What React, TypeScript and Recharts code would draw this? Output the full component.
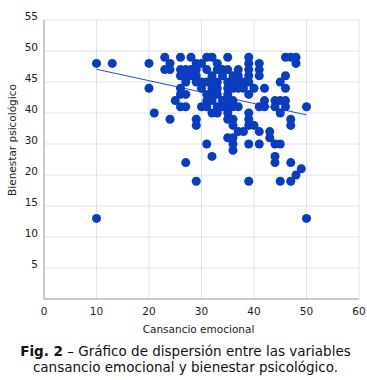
import { ScatterChart, Scatter, XAxis, YAxis, ZAxis, CartesianGrid, ReferenceLine } from 'recharts'

// Cansancio emocional (x) / Bienestar psicológico (y)
const cansancio = [
  23, 26, 28, 31, 32, 35, 39, 46, 47, 48,
  10, 13, 20, 24, 29, 30, 33, 39, 41, 48,
  23, 24, 26, 27, 28, 29, 31, 33, 34, 35, 37, 39, 41,
  26, 27, 28, 29, 32, 34, 36, 37, 39, 41, 46,
  27, 29, 30, 31, 32, 33, 35, 36, 37, 38, 39, 45,
  20, 26, 30, 32, 33, 35, 36, 37, 38, 40, 42, 46,
  26, 27, 31, 32, 33, 35, 39,
  25, 31, 32, 34, 35, 36, 42, 44, 45, 46,
  26, 27, 30, 31, 33, 34, 35, 36, 37, 41, 42, 44, 46, 50,
  21, 32, 33, 35, 39, 45,
  24, 29, 35, 36, 39, 47,
  29, 36, 39, 40, 47,
  37, 38, 41, 43,
  35, 36, 43,
  31, 36, 39, 41, 44, 45,
  36,
  32, 44,
  27, 44, 47,
  49,
  48,
  29, 39, 45, 47,
  10, 50,
]
const bienestar = [
  49, 49, 49, 49, 49, 49, 49, 49, 49, 49,
  48, 48, 48, 48, 48, 48, 48, 48, 48, 48,
  47, 47, 47, 47, 47, 47, 47, 47, 47, 47, 47, 47, 47,
  46, 46, 46, 46, 46, 46, 46, 46, 46, 46, 46,
  45, 45, 45, 45, 45, 45, 45, 45, 45, 45, 45, 45,
  44, 44, 44, 44, 44, 44, 44, 44, 44, 44, 44, 44,
  43, 43, 43, 43, 43, 43, 43,
  42, 42, 42, 42, 42, 42, 42, 42, 42, 42,
  41, 41, 41, 41, 41, 41, 41, 41, 41, 41, 41, 41, 41, 41,
  40, 40, 40, 40, 40, 40,
  38, 38, 38, 38, 38, 38,
  36, 36, 36, 36, 36,
  34, 34, 34, 34,
  32, 32, 32,
  30, 30, 30, 30, 30, 30,
  28,
  26, 26,
  24, 24, 24,
  22,
  20,
  19, 19, 19, 19,
  13, 13,
]

const xTicks = [0, 10, 20, 30, 40, 50, 60]
// the y axis of the original is not evenly spaced: 20-40 are squeezed
const yTicks = [5, 10, 15, 20, 30, 40, 45, 50, 55]
const yBreaks = [0, 5, 10, 15, 20, 30, 40, 45, 50, 55]

// linear trend as drawn in the figure
const trendX = [10, 50]
const trendY = [47.05, 39.4]

const data = cansancio.map((x, i) => ({ x, y: bienestar[i] }))

// piecewise linear scale, each break gets the same room on screen
function piecewiseScale(breaks: number[], range: number[] = [0, 1]): any {
  let r = range
  const scale: any = (v: number) => {
    const n = breaks.length - 1
    let i = 0
    while (i < n - 1 && v > breaks[i + 1]) i++
    const t = (i + (v - breaks[i]) / (breaks[i + 1] - breaks[i])) / n
    return r[0] + (r[1] - r[0]) * t
  }
  scale.domain = (d?: any) => (d === undefined ? [breaks[0], breaks[breaks.length - 1]] : scale)
  scale.range = (nr?: any) => {
    if (nr === undefined) return r
    r = nr
    return scale
  }
  scale.copy = () => piecewiseScale(breaks, r)
  scale.ticks = () => breaks
  return scale
}

const font = '"DejaVu Sans", Verdana, sans-serif'
const tickStyle = { fill: '#222', fontSize: 10.5, fontFamily: font }

export default function App() {
  return (
    <div style={{ position: 'absolute', left: 0, top: 0, width: 367, background: '#fff' }}>
      <ScatterChart width={367} height={340} margin={{ top: 20, right: 8, left: 20, bottom: 5 }}>
        <CartesianGrid stroke="#dde2ea" />
        <XAxis
          type="number"
          dataKey="x"
          domain={[0, 60]}
          ticks={xTicks}
          interval={0}
          height={36}
          tickLine={false}
          tickSize={6}
          tickMargin={3}
          axisLine={{ stroke: '#9aa6b5' }}
          tick={tickStyle}
          label={{
            value: 'Cansancio emocional',
            position: 'insideBottom',
            offset: 2,
            dx: -3,
            style: { fill: '#222', fontSize: 10.5, fontFamily: font },
          }}
        />
        <YAxis
          type="number"
          dataKey="y"
          domain={[0, 55]}
          scale={piecewiseScale(yBreaks)}
          ticks={yTicks}
          interval={0}
          width={24}
          tickLine={false}
          tickSize={4}
          tickMargin={2}
          axisLine={{ stroke: '#9aa6b5' }}
          tick={{ ...tickStyle, dy: -4 }}
          label={{
            content: () => (
              <text
                x={12}
                y={140}
                transform="rotate(-90 12 140)"
                textAnchor="middle"
                dominantBaseline="central"
                fill="#222"
                fontSize={10.5}
                fontFamily={font}
              >
                Bienestar psicológico
              </text>
            ),
          }}
        />
        <ZAxis range={[40, 40]} />
        <ReferenceLine
          segment={[
            { x: trendX[0], y: trendY[0] },
            { x: trendX[1], y: trendY[1] },
          ]}
          stroke="#2150c8"
          strokeWidth={1}
        />
        <Scatter data={data} fill="#0a3cbe" isAnimationActive={false} />
      </ScatterChart>
      <div
        style={{
          marginTop: 3,
          paddingLeft: 4,
          textAlign: 'center',
          fontFamily: font,
          fontSize: 13.5,
          lineHeight: '16px',
          color: '#111',
        }}
      >
        <b>Fig. 2</b> – Gráfico de dispersión entre las variables
        <br />
        cansancio emocional y bienestar psicológico.
      </div>
    </div>
  )
}
